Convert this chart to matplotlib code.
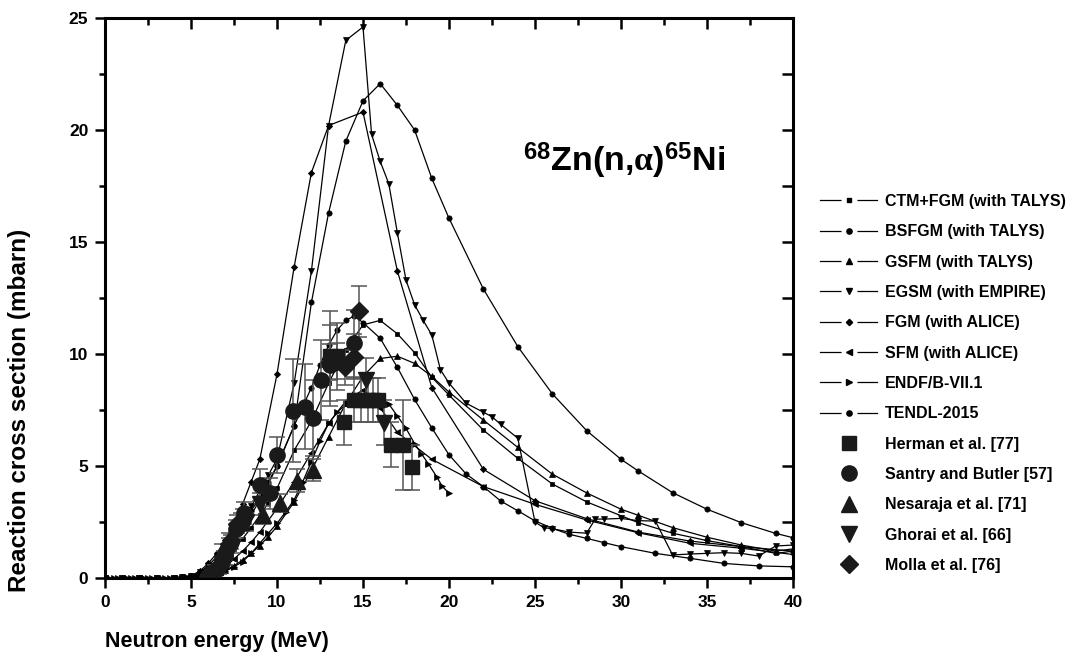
import matplotlib
matplotlib.use("Agg")
import matplotlib.pyplot as plt
from matplotlib.lines import Line2D
from matplotlib.legend_handler import HandlerTuple

plt.rcParams['font.family'] = ['Liberation Sans', 'DejaVu Sans']
plt.rcParams['font.weight'] = 'bold'
plt.rcParams['mathtext.fontset'] = 'custom'
plt.rcParams['mathtext.rm'] = 'Liberation Sans:bold'
plt.rcParams['mathtext.bf'] = 'Liberation Sans:bold'
plt.rcParams['mathtext.it'] = 'Liberation Serif'

# --- 1. Datos de los modelos teóricos (E en MeV, sigma en mbarn) ---
e_ctm = [0, 2, 4, 4.5, 5, 5.5, 6, 6.5, 7, 7.5, 8, 8.5, 9, 9.5, 10, 11, 12, 13, 14, 15, 16, 17, 18, 19, 20,
         22, 24, 26, 28, 31, 33, 35, 37, 39, 40]
s_ctm = [0, 0, 0.01, 0.02, 0.06, 0.15, 0.32, 0.58, 0.9, 1.3, 1.75, 2.25, 2.8, 3.35, 4.0, 5.7, 7.0, 8.7, 10.2,
         11.3, 11.5, 10.9, 10.06, 8.96, 8.17, 6.6, 5.34, 4.2, 3.4, 2.47, 2.0, 1.67, 1.4, 1.1, 1.2]

e_bsfgm = [0, 2, 4, 4.5, 5, 5.5, 6, 6.5, 7, 7.5, 8, 8.5, 9, 9.5, 10, 11, 12, 12.5, 13, 13.5, 14, 14.5, 15, 16,
           17, 18, 19, 20, 21, 22, 23, 24, 25, 26, 27, 28, 29, 30, 32, 34, 36, 38, 40]
s_bsfgm = [0, 0, 0.01, 0.03, 0.08, 0.2, 0.42, 0.75, 1.15, 1.65, 2.2, 2.8, 3.5, 4.2, 5.0, 6.8, 8.5, 9.5, 10.4,
           11.07, 11.5, 11.7, 11.4, 10.7, 9.4, 7.97, 6.7, 5.5, 4.64, 4.08, 3.44, 3.0, 2.55, 2.22, 1.95, 1.77,
           1.58, 1.4, 1.1, 0.88, 0.65, 0.54, 0.5]

e_gsfm = [0, 2, 4, 5, 5.5, 6, 6.5, 7, 7.5, 8, 8.5, 9, 9.5, 10, 11, 12, 13, 14, 15, 16, 17, 18, 19, 20, 22, 24,
          26, 28, 30, 31, 33, 35, 37, 39, 40]
s_gsfm = [0, 0, 0, 0.02, 0.05, 0.1, 0.2, 0.35, 0.55, 0.8, 1.1, 1.45, 1.85, 2.3, 3.4, 4.8, 6.3, 7.8, 9.0, 9.8,
          9.9, 9.58, 9.0, 8.3, 7.05, 5.83, 4.64, 3.8, 3.07, 2.8, 2.25, 1.82, 1.47, 1.2, 1.3]

e_egsm = [0, 1, 2, 3, 4, 4.5, 5, 5.5, 6, 6.5, 7, 7.5, 8, 8.5, 9, 9.5, 10, 11, 12, 13, 14, 15, 15.5, 16, 16.5,
          17, 17.5, 18, 18.5, 19, 19.5, 20, 21, 22, 22.5, 23, 24, 25, 25.5, 26, 27, 28, 28.5, 29, 30, 31, 32,
          33, 34, 35, 36, 37, 38, 39, 40]
s_egsm = [0, 0, 0, 0, 0.01, 0.03, 0.09, 0.25, 0.55, 0.95, 1.45, 2.0, 2.6, 3.2, 3.9, 4.6, 5.3, 8.7, 13.7, 20.2,
          24.0, 24.6, 19.8, 18.6, 17.6, 15.4, 13.3, 12.2, 11.5, 10.85, 9.3, 8.7, 7.8, 7.4, 7.2, 6.86, 6.24,
          2.5, 2.25, 2.2, 2.05, 2.0, 2.63, 2.63, 2.66, 2.56, 2.54, 1.03, 1.07, 1.1, 1.13, 1.1, 0.98, 1.43, 1.47]

e_fgm = [0, 1, 2, 3, 4, 4.5, 5, 5.5, 6, 6.5, 7, 7.5, 8, 8.5, 9, 10, 11, 12, 13, 15, 17, 19, 22, 25, 28, 31,
         34, 37, 40]
s_fgm = [0, 0, 0, 0, 0.01, 0.03, 0.1, 0.3, 0.65, 1.1, 1.7, 2.5, 3.3, 4.3, 5.3, 9.1, 13.9, 18.1, 20.2, 20.8,
         13.7, 8.5, 4.85, 3.45, 2.65, 2.05, 1.65, 1.4, 1.2]

e_sfm = [0, 2, 4, 5, 5.5, 6, 6.5, 7, 7.5, 8, 8.5, 9, 10, 11, 12, 13, 14, 15, 16, 17, 19, 22, 25, 28, 31, 34,
         37, 40]
s_sfm = [0, 0, 0, 0.03, 0.08, 0.17, 0.32, 0.55, 0.85, 1.2, 1.6, 2.05, 3.1, 4.3, 5.6, 6.9, 7.9, 8.4, 7.6, 6.5,
         5.3, 4.08, 3.29, 2.59, 2.02, 1.55, 1.33, 1.05]

e_endf = [0, 0.25, 0.5, 0.75, 1, 1.25, 1.5, 1.75, 2, 2.25, 2.5, 2.75, 3, 3.25, 3.5, 3.75, 4, 4.25, 4.5, 4.75,
          5, 5.25, 5.5, 5.75, 6, 6.25, 6.5, 6.75, 7, 7.5, 8, 8.5, 9, 9.5, 10, 10.5, 11, 11.5, 12, 12.5, 13,
          13.5, 14, 14.5, 15, 15.5, 16, 16.5, 17, 17.5, 18, 18.4, 18.8, 19.3, 19.6, 20]
s_endf = [0, 0, 0, 0, 0, 0, 0, 0, 0, 0, 0, 0, 0, 0, 0, 0, 0.01, 0.01, 0.02, 0.03, 0.04, 0.06, 0.08, 0.11,
          0.14, 0.17, 0.21, 0.25, 0.3, 0.5, 0.73, 1.1, 1.55, 2.0, 2.44, 2.95, 3.5, 4.3, 5.2, 6.1, 6.9, 7.4,
          7.75, 8.0, 8.1, 8.05, 7.95, 7.77, 7.23, 6.68, 6.0, 5.54, 5.1, 4.5, 4.1, 3.78]

e_tendl = [0, 1, 2, 3, 4, 4.5, 5, 5.5, 6, 6.5, 7, 7.5, 8, 8.5, 9, 9.5, 10, 11, 12, 13, 14, 15, 16, 17, 18, 19,
           20, 22, 24, 26, 28, 30, 31, 33, 35, 37, 39, 40]
s_tendl = [0, 0, 0, 0, 0.01, 0.03, 0.08, 0.2, 0.45, 0.8, 1.25, 1.8, 2.4, 3.0, 3.6, 4.3, 5.0, 6.8, 12.3, 16.3,
           19.5, 21.3, 22.07, 21.1, 20.0, 17.84, 16.06, 12.9, 10.33, 8.23, 6.58, 5.3, 4.78, 3.81, 3.07, 2.47,
           1.99, 1.8]

# --- 2. Datos experimentales ---
e_herman = [13.1, 13.5, 13.9, 14.5, 14.9, 15.3, 15.6, 15.9, 16.6, 17.35, 17.85]
s_herman = [9.9, 9.9, 6.95, 7.95, 7.95, 7.95, 7.95, 7.95, 5.95, 5.95, 4.95]
d_herman = [2.0, 1.5, 1.0, 1.0, 1.0, 1.0, 1.0, 1.0, 1.0, 2.0, 1.0]

e_santry = [6.0, 6.3, 6.5, 6.8, 7.0, 7.3, 7.6, 8.0, 8.1, 9.0, 9.6, 10.0, 10.95, 11.6, 12.1, 12.55, 13.1, 14.45]
s_santry = [0.1, 0.25, 0.4, 0.7, 1.0, 1.6, 2.2, 2.6, 2.9, 4.15, 3.78, 5.49, 7.46, 7.65, 7.16, 8.84, 9.5, 10.48]
d_santry = [0.05, 0.1, 0.1, 0.2, 0.2, 0.3, 0.4, 0.5, 0.5, 0.7, 0.7, 0.8, 2.3, 1.9, 1.7, 1.8, 1.8, 1.5]

e_nesaraja = [6.4, 6.8, 7.2, 7.9, 9.2, 10.2, 11.15, 12.1]
s_nesaraja = [0.5, 1.2, 1.7, 2.5, 2.8, 3.35, 4.35, 4.82]
d_nesaraja = [0.1, 0.3, 0.3, 0.4, 0.4, 0.4, 0.5, 0.5]

e_ghorai = [6.3, 6.6, 7.0, 7.4, 8.2, 9.0, 15.2, 16.2]
s_ghorai = [0.15, 0.3, 0.8, 1.4, 2.5, 3.3, 8.84, 6.93]
d_ghorai = [0.05, 0.1, 0.2, 0.3, 0.4, 0.5, 1.0, 1.0]

e_molla = [6.0, 6.5, 6.9, 7.2, 7.7, 13.1, 13.5, 13.95, 14.45, 14.75]
s_molla = [0.1, 0.4, 1.0, 1.5, 2.4, 9.66, 9.7, 9.4, 9.88, 11.9]
d_molla = [0.05, 0.1, 0.2, 0.3, 0.4, 0.8, 0.8, 0.8, 1.0, 1.15]

# --- 3. Figura ---
fig = plt.figure(figsize=(10.71, 6.6), dpi=100)
ax = fig.add_axes([105 / 1071, 1 - 578 / 660, 688 / 1071, 560 / 660])

teoricos = [
    (e_ctm, s_ctm, 's', 'CTM+FGM (with TALYS)'),
    (e_bsfgm, s_bsfgm, 'o', 'BSFGM (with TALYS)'),
    (e_gsfm, s_gsfm, '^', 'GSFM (with TALYS)'),
    (e_egsm, s_egsm, 'v', 'EGSM (with EMPIRE)'),
    (e_fgm, s_fgm, 'D', 'FGM (with ALICE)'),
    (e_sfm, s_sfm, '<', 'SFM (with ALICE)'),
    (e_endf, s_endf, '>', 'ENDF/B-VII.1'),
    (e_tendl, s_tendl, 'o', 'TENDL-2015'),
]
tam_teo = {'s': 3.5, 'o': 3.8, '^': 4.2, 'v': 4.2, 'D': 3.2, '<': 4.2, '>': 4.2}

handles = []
labels = []
for e, s, m, lab in teoricos:
    ax.plot(e, s, color='k', lw=0.9, marker=m, ms=tam_teo[m], mfc='k', mec='k', mew=0.5)
    fondo = Line2D([], [], color='k', lw=0.9, marker='o', ms=10.5, mfc='white', mec='white')
    punto = Line2D([], [], ls='none', marker=m, ms=tam_teo[m], color='k')
    handles.append((fondo, punto))
    labels.append(lab)

experimentales = [
    (e_herman, s_herman, d_herman, 's', 10, 'Herman et al. [77]'),
    (e_santry, s_santry, d_santry, 'o', 11, 'Santry and Butler [57]'),
    (e_nesaraja, s_nesaraja, d_nesaraja, '^', 12, 'Nesaraja et al. [71]'),
    (e_ghorai, s_ghorai, d_ghorai, 'v', 12, 'Ghorai et al. [66]'),
    (e_molla, s_molla, d_molla, 'D', 9.5, 'Molla et al. [76]'),
]
for e, s, d, m, ms, lab in experimentales:
    ax.errorbar(e, s, yerr=d, fmt=m, ms=ms, color='#1a1a1a', ecolor='#555555',
                elinewidth=1.1, capsize=6, capthick=1.1, zorder=3)
    handles.append(Line2D([], [], ls='none', marker=m, ms=ms, color='#1a1a1a'))
    labels.append(lab)

# --- 4. Ejes ---
ax.set_xlim(0, 40)
ax.set_ylim(0, 25)
ax.set_xticks([0, 5, 10, 15, 20, 25, 30, 35, 40])
ax.set_yticks([0, 5, 10, 15, 20, 25])
ax.set_xticks([2.5, 7.5, 12.5, 17.5, 22.5, 27.5, 32.5, 37.5], minor=True)
ax.set_yticks([2.5, 7.5, 12.5, 17.5, 22.5], minor=True)
for sp in ax.spines.values():
    sp.set_linewidth(2.2)
ax.tick_params(which='both', direction='out', width=1.8, labelsize=12.5, pad=5,
               top=False, right=False)
ax.tick_params(which='major', length=7)
ax.tick_params(which='minor', length=4)
for lab in ax.get_xticklabels() + ax.get_yticklabels():
    lab.set_fontweight('bold')

# ticks hacia dentro arriba y a la derecha
ax2 = ax.twinx()
ax2.set_ylim(0, 25)
ax2.set_yticks([0, 2.5, 5, 7.5, 10, 12.5, 15, 17.5, 20, 22.5, 25])
ax2.tick_params(direction='in', length=8, width=1.8, labelright=False)
ax3 = ax.twiny()
ax3.set_xlim(0, 40)
ax3.set_xticks([0, 5, 10, 15, 20, 25, 30, 35, 40])
ax3.set_xticks([2.5, 7.5, 12.5, 17.5, 22.5, 27.5, 32.5, 37.5], minor=True)
ax3.tick_params(which='major', direction='in', length=8, width=1.8, labeltop=False)
ax3.tick_params(which='minor', direction='in', length=5, width=1.8)

ax.set_xlabel('Neutron energy (MeV)', fontsize=15.5, fontweight='bold', loc='left', labelpad=15)
ax.set_ylabel('Reaction cross section (mbarn)', fontsize=17.5, fontweight='bold')
ax.yaxis.set_label_coords(-0.108, 0.3)

ax.text(0.608, 0.745, r'$^{68}$Zn(n,$\alpha$)$^{65}$Ni', transform=ax.transAxes,
        fontsize=24.5, fontweight='bold', va='center', ha='left')

fig.legend(handles, labels, handler_map={tuple: HandlerTuple(ndivide=1)},
           loc='upper left', bbox_to_anchor=(812 / 1071, 1 - 186 / 660), frameon=False,
           fontsize=11.5, handlelength=3.6, handletextpad=0.45, labelspacing=0.96, borderpad=0)

fig.savefig('out.png', dpi=100)
